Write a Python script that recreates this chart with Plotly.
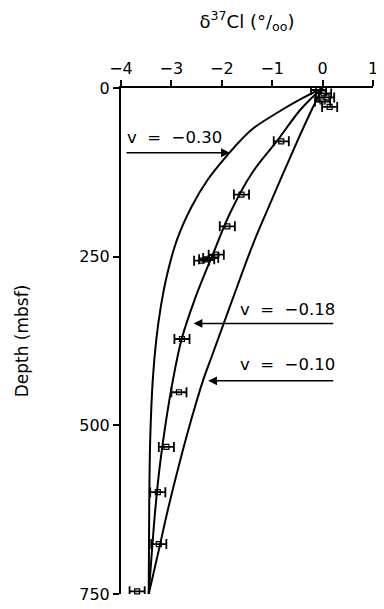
import plotly.graph_objects as go

# Measured data: delta37Cl (per mil) vs depth (mbsf)
pts_x = [-0.08, 0.02, 0.08, 0.0, 0.14, -0.82, -1.61, -1.89, -2.11, -2.22, -2.30, -2.40,
         -2.79, -2.85, -3.10, -3.27, -3.25, -3.68]
pts_d = [3, 8, 14, 20, 28, 79, 158, 205, 247, 252, 254, 256,
         372, 451, 532, 599, 676, 746]
pts_err = [0.15, 0.15, 0.15, 0.15, 0.15, 0.15, 0.15, 0.15, 0.15, 0.15, 0.15, 0.15,
           0.15, 0.15, 0.15, 0.15, 0.15, 0.15]

# Model curves
v030_x = [0.0, -0.40, -0.82, -1.38, -1.62, -1.86, -2.28, -2.60, -2.89, -3.08, -3.21, -3.30, -3.37, -3.42, -3.44, -3.45]
v030_d = [0, 15, 33, 60, 77, 97, 136, 176, 225, 275, 324, 373, 433, 520, 620, 750]

v018_x = [0.0, -0.22, -0.45, -0.92, -1.40, -1.84, -2.17, -2.54, -2.80, -2.97, -3.12, -3.23, -3.32, -3.39, -3.45]
v018_d = [0, 15, 33, 80, 126, 186, 245, 314, 373, 433, 500, 560, 625, 690, 750]

v010_x = [0.0, -0.22, -0.49, -1.12, -1.40, -1.84, -2.20, -2.37, -2.60, -2.85, -3.07, -3.25, -3.45]
v010_d = [0, 33, 77, 185, 235, 324, 398, 433, 490, 559, 625, 685, 750]

x_ticks = [-4, -3, -2, -1, 0, 1]
y_ticks = [0, 250, 500, 750]

FONT = "DejaVu Sans"

fig = go.Figure()
for cx, cd in [(v030_x, v030_d), (v018_x, v018_d), (v010_x, v010_d)]:
    fig.add_trace(go.Scatter(x=cx, y=cd, mode="lines",
                             line=dict(color="black", width=2, shape="spline", smoothing=1.0),
                             showlegend=False, hoverinfo="skip"))

fig.add_trace(go.Scatter(
    x=pts_x, y=pts_d, mode="markers",
    marker=dict(symbol="square-open", size=5, color="black", line=dict(width=1.2, color="black")),
    error_x=dict(type="data", array=pts_err, color="black", thickness=1.8, width=5),
    cliponaxis=False, showlegend=False))

annots = []
# arrows
for tip_x, tail_x, dd in [(-1.84, -3.92, 96), (-2.56, 0.24, 349), (-2.27, 0.24, 434)]:
    annots.append(dict(x=tip_x, y=dd, ax=tail_x, ay=dd, xref="x", yref="y", axref="x", ayref="y",
                       text="", showarrow=True, arrowhead=2, arrowsize=1.1, arrowwidth=1.6,
                       arrowcolor="black", standoff=0, startstandoff=0))
nb = "\u00a0\u00a0"
annots.append(dict(x=-3.92, y=73, xref="x", yref="y", text="v" + nb + "=" + nb + "\u22120.30", showarrow=False,
                   xanchor="left", yanchor="middle", font=dict(family=FONT, size=16.5, color="black")))
annots.append(dict(x=0.28, y=329, xref="x", yref="y", text="v" + nb + "=" + nb + "\u22120.18", showarrow=False,
                   xanchor="right", yanchor="middle", font=dict(family=FONT, size=16.5, color="black")))
annots.append(dict(x=0.28, y=410, xref="x", yref="y", text="v" + nb + "=" + nb + "\u22120.10", showarrow=False,
                   xanchor="right", yanchor="middle", font=dict(family=FONT, size=16.5, color="black")))

fig.update_layout(
    width=376, height=601,
    margin=dict(l=113, r=11, t=80, b=15),
    paper_bgcolor="white", plot_bgcolor="white",
    font=dict(family=FONT, size=16, color="black"),
    annotations=annots,
    xaxis=dict(side="top", range=[-4, 1], tickvals=x_ticks, showgrid=False, zeroline=False,
               automargin=False,
               showline=True, linecolor="black", linewidth=2, ticks="outside", ticklen=6,
               tickwidth=1.5, tickcolor="black", tickfont=dict(family=FONT, size=16),
               title=dict(text="\u03b4<sup>37</sup>Cl (\u00b0/<sub>oo</sub>)", font=dict(family=FONT, size=18), standoff=27)),
    yaxis=dict(range=[750, 0], tickvals=y_ticks, showgrid=False, zeroline=False,
               automargin=False,
               showline=True, linecolor="black", linewidth=2, ticks="outside", ticklen=6,
               tickwidth=1.5, tickcolor="black", tickfont=dict(family=FONT, size=16),
               title=dict(text="Depth (mbsf)", font=dict(family=FONT, size=17), standoff=46)),
)

fig.write_html("out.html")
